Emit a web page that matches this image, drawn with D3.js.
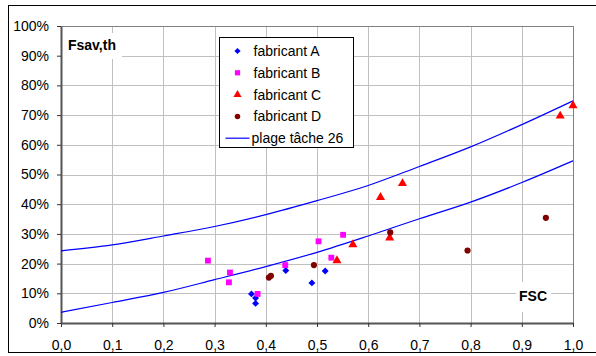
<!DOCTYPE html>
<html>
<head>
<meta charset="utf-8">
<script src="https://cdn.jsdelivr.net/npm/d3@7"></script>
<style>
    body { margin: 0; background: #fff; }
    text { font-family: Arial, "Liberation Sans", sans-serif; }
</style>
</head>
<body>
<div id="chart"></div>
<script>
// chart values
let fabA = [[0.372, 0.098], [0.380, 0.084], [0.380, 0.066], [0.439, 0.177], [0.490, 0.135], [0.516, 0.175]];
let fabB = [[0.287, 0.210], [0.330, 0.170], [0.328, 0.137], [0.384, 0.098], [0.438, 0.195], [0.503, 0.275], [0.528, 0.220], [0.551, 0.297]];
let fabC = [[0.539, 0.210], [0.570, 0.264], [0.642, 0.287], [0.624, 0.423], [0.667, 0.470], [0.975, 0.697], [1.0, 0.732]];
let fabD = [[0.406, 0.153], [0.410, 0.159], [0.494, 0.195], [0.643, 0.305], [0.794, 0.244], [0.947, 0.354]];
let plageX = [0, 0.1, 0.2, 0.3, 0.4, 0.5, 0.6, 0.7, 0.8, 0.9, 1.0];
let plageHaut = [0.243, 0.263, 0.293, 0.325, 0.365, 0.412, 0.463, 0.527, 0.593, 0.668, 0.748];
let plageBas = [0.036, 0.069, 0.103, 0.146, 0.190, 0.238, 0.293, 0.351, 0.407, 0.473, 0.546];
let xTicks = [0, 0.1, 0.2, 0.3, 0.4, 0.5, 0.6, 0.7, 0.8, 0.9, 1.0];
let yTicks = [0, 0.1, 0.2, 0.3, 0.4, 0.5, 0.6, 0.7, 0.8, 0.9, 1.0];
let legendLabels = ["fabricant A", "fabricant B", "fabricant C", "fabricant D", "plage tâche 26"];

let W = 596, H = 356;
let plot = { left: 61, right: 573, top: 26, bottom: 323 };
let fs = 14;

let svg = d3.select("#chart").append("svg")
    .attr("width", W).attr("height", H);

// outer frame
svg.append("rect")
    .attr("x", 8.5).attr("y", 5.5)
    .attr("width", 600).attr("height", 347)
    .attr("fill", "none").attr("stroke", "#000");

let x = d3.scaleLinear().domain([0, 1]).range([plot.left, plot.right]);
let y = d3.scaleLinear().domain([0, 1]).range([plot.bottom, plot.top]);

let fr = d3.formatLocale({ decimal: ",", thousands: " ", grouping: [3], currency: ["", " €"] });

// grid
let grid = svg.append("g").attr("stroke", "#c0c0c0").attr("stroke-width", 1);
grid.selectAll(".gx").data(xTicks.slice(1)).enter().append("line")
    .attr("x1", d => Math.round(x(d)) + 0.5).attr("x2", d => Math.round(x(d)) + 0.5)
    .attr("y1", plot.top).attr("y2", plot.bottom);
grid.selectAll(".gy").data(yTicks.slice(1)).enter().append("line")
    .attr("x1", plot.left).attr("x2", plot.right)
    .attr("y1", d => Math.round(y(d)) + 0.5).attr("y2", d => Math.round(y(d)) + 0.5);

// top / right border of plot area
svg.append("path")
    .attr("d", `M${plot.left},${plot.top + 0.5}H${plot.right + 0.5}V${plot.bottom}`)
    .attr("fill", "none").attr("stroke", "#808080");

// white label boxes (they hide the grid)
svg.append("rect").attr("x", 62).attr("y", 33).attr("width", 60).attr("height", 26).attr("fill", "#fff");
svg.append("text").attr("x", 68).attr("y", 50)
    .attr("font-size", fs).attr("font-weight", "bold").text("Fsav,th");
svg.append("rect").attr("x", 516).attr("y", 282).attr("width", 35).attr("height", 30).attr("fill", "#fff");
svg.append("text").attr("x", 519).attr("y", 301)
    .attr("font-size", fs).attr("font-weight", "bold").text("FSC");

// axes
let xAxis = svg.append("g")
    .attr("transform", `translate(0,${plot.bottom})`)
    .call(d3.axisBottom(x).tickValues(xTicks).tickFormat(fr.format(".1f")).tickSize(4).tickSizeOuter(0));
let yAxis = svg.append("g")
    .attr("transform", `translate(${plot.left},0)`)
    .call(d3.axisLeft(y).tickValues(yTicks).tickFormat(d3.format(".0%")).tickSize(4).tickSizeOuter(0));
[xAxis, yAxis].forEach(a => {
    a.select(".domain").attr("stroke", "#555").attr("stroke-width", 2);
    a.selectAll(".tick line").attr("stroke", "#333");
    a.selectAll("text").attr("font-size", fs).attr("fill", "#000")
        .style("font-family", "Arial, 'Liberation Sans', sans-serif");
});
xAxis.selectAll("text").attr("y", 27).attr("dy", 0);
yAxis.selectAll("text").attr("x", -12);

// curves
let line = d3.line().x(d => x(d[0])).y(d => y(d[1])).curve(d3.curveMonotoneX);
[plageHaut, plageBas].forEach(vals => {
    svg.append("path")
        .datum(plageX.map((v, i) => [v, vals[i]]))
        .attr("d", line)
        .attr("fill", "none").attr("stroke", "#0000ff").attr("stroke-width", 1.2);
});

// markers (diamond = square turned by 45deg)
let series = [
    { data: fabA, type: d3.symbolSquare, size: 24, rot: 45, color: "#0000ff" },
    { data: fabB, type: d3.symbolSquare, size: 34, rot: 0, color: "#ff00ff" },
    { data: fabC, type: d3.symbolTriangle, size: 36, rot: 0, color: "#ff0000" },
    { data: fabD, type: d3.symbolCircle, size: 30, rot: 0, color: "#800000" }
];
series.forEach(s => {
    svg.append("g").selectAll("path").data(s.data).enter().append("path")
        .attr("transform", d => `translate(${x(d[0])},${y(d[1])}) rotate(${s.rot})`)
        .attr("d", d3.symbol().type(s.type).size(s.size))
        .attr("fill", s.color);
});

// legend
let leg = svg.append("g").attr("transform", "translate(219.5,37.5)");
leg.append("rect").attr("width", 134).attr("height", 110)
    .attr("fill", "#fff").attr("stroke", "#000");
legendLabels.forEach((lab, i) => {
    let cy = 13.5 + i * 21.8;
    if (i < 4) {
        let s = series[i];
        leg.append("path")
            .attr("transform", `translate(18,${cy}) rotate(${s.rot})`)
            .attr("d", d3.symbol().type(s.type).size(s.size * 0.8))
            .attr("fill", s.color);
    } else {
        leg.append("line").attr("x1", 6).attr("x2", 30).attr("y1", cy).attr("y2", cy)
            .attr("stroke", "#0000ff").attr("stroke-width", 1.2);
    }
    leg.append("text").attr("x", i < 4 ? 34 : 32).attr("y", cy + 5)
        .attr("font-size", fs).text(lab);
});
</script>
</body>
</html>
